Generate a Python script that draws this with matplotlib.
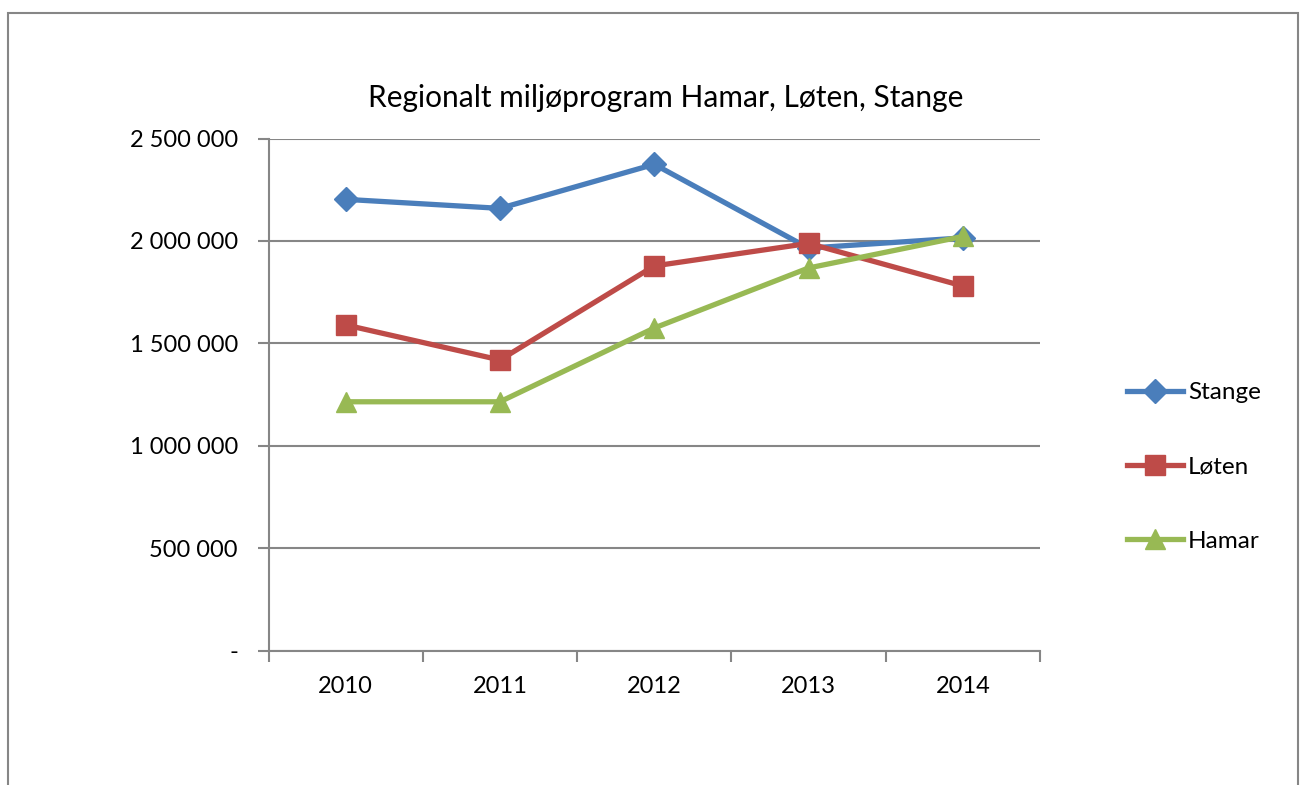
import matplotlib
matplotlib.use("Agg")
import matplotlib.pyplot as plt
from matplotlib.patches import Rectangle
from matplotlib.ticker import FuncFormatter, FixedLocator

years = ["2010", "2011", "2012", "2013", "2014"]
stange = [2203000, 2159000, 2374000, 1965000, 2015000]
loten = [1590000, 1419000, 1878000, 1988000, 1780000]
hamar = [1215000, 1215000, 1575000, 1868000, 2022000]
series_names = ["Stange", "Løten", "Hamar"]
title = "Regionalt miljøprogram Hamar, Løten, Stange"
yticks = [0, 500000, 1000000, 1500000, 2000000, 2500000]

plt.rcParams['font.family'] = ['Lato', 'DejaVu Sans']

W, H = 1306, 785
fig = plt.figure(figsize=(W / 100, H / 100), dpi=100)
fig.patch.set_facecolor("white")

# outer chart border
fig.add_artist(Rectangle((7.5 / W, -0.1), (1298 - 7.5) / W, 1.1 - 12.5 / H,
                         transform=fig.transFigure, fill=False,
                         edgecolor="#868686", linewidth=1.5))

ax = fig.add_axes([268.5 / W, 1 - 650.7 / H, (1040 - 268.5) / W, (650.7 - 138.5) / H])
x = list(range(len(years)))
grey = "#868686"

ax.plot(x, stange, color="#4A7EBB", lw=3.8, marker="D", markersize=12, label=series_names[0], zorder=3)
ax.plot(x, loten, color="#BE4B48", lw=3.8, marker="s", markersize=14, label=series_names[1], zorder=4)
ax.plot(x, hamar, color="#98B954", lw=3.8, marker="^", markersize=15, label=series_names[2], zorder=5)

ax.set_xlim(-0.5, len(years) - 0.5)
ax.set_ylim(0, 2500000)
ax.yaxis.set_major_locator(FixedLocator(yticks))

def fmt(v, pos):
    if v == 0:
        return "-"
    return f"{int(v):,}".replace(",", " ")
ax.yaxis.set_major_formatter(FuncFormatter(fmt))

ax.set_xticks([i + 0.5 for i in range(-1, len(years))])
ax.set_xticklabels([])
ax.set_xticks(x, minor=True)
ax.set_xticklabels(years, minor=True)
ax.tick_params(axis="x", which="major", length=8, width=1.5, color=grey, direction="out")
ax.tick_params(axis="x", which="minor", length=0, pad=18, labelsize=17)
ax.tick_params(axis="y", length=8, width=1.5, color=grey, direction="out", pad=14, labelsize=17)

ax.grid(axis="y", color=grey, lw=1.5)
ax.set_axisbelow(True)
for s in ["top", "right"]:
    ax.spines[s].set_visible(False)
for s in ["left", "bottom"]:
    ax.spines[s].set_color(grey)
    ax.spines[s].set_linewidth(1.5)

fig.text(665.5 / W, 1 - 98 / H, title, ha="center", va="center", fontsize=21.5)

leg = ax.legend(loc="center left", bbox_to_anchor=(1127 / W, 1 - 467 / H),
                bbox_transform=fig.transFigure, frameon=False, fontsize=17.5,
                handlelength=2.3, handletextpad=0.2, labelspacing=2.2, borderaxespad=0,
                borderpad=0)

fig.savefig("out.png", dpi=100, facecolor="white")
